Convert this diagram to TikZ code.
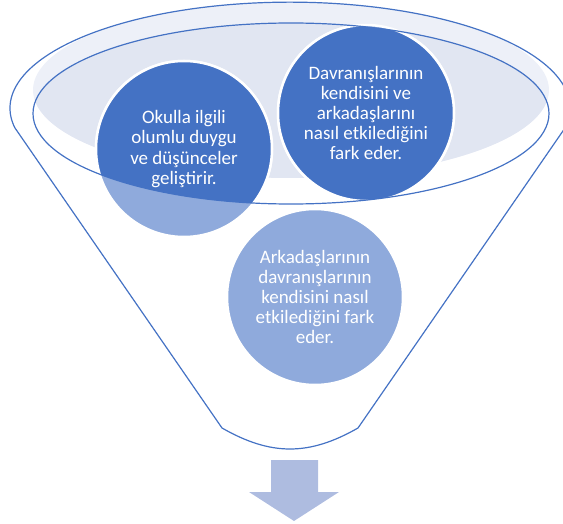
\documentclass[tikz,border=0pt]{standalone}
\usepackage{fontspec}
\setmainfont{Carlito}
\definecolor{accent}{HTML}{4472C4}
\definecolor{accentlight}{HTML}{8FAADC}
\definecolor{rimlight}{HTML}{EDF0F8}
\definecolor{rimshade}{HTML}{E1E6F2}
\definecolor{arrowfill}{HTML}{AEBCE0}
\begin{document}
\begin{tikzpicture}[x=1pt,y=-1pt,
  funnelline/.style={draw=accent, line width=1.2pt},
  bubble/.style={circle, minimum size=176pt, inner sep=0pt, draw=white, line width=2.5pt},
  bubbletext/.style={text=white, align=center, font=\fontsize{19}{20.2}\selectfont}]
\useasboundingbox (0,0) rectangle (563,524);

% light rim of the funnel opening and its shaded inside
\fill[rimlight] (291,90) ellipse [x radius=258, y radius=88];
\begin{scope}
  \clip (291,113.5) ellipse [x radius=258, y radius=90.5];
  \fill[rimshade] (291,90) ellipse [x radius=258, y radius=88];
\end{scope}

% circles, pale where the funnel body covers them
\node[bubble, fill=accentlight] (c1) at (184,149) {};
\node[bubble, fill=accentlight] (c2) at (366,113) {};
\node[bubble, fill=accentlight] (c3) at (315,297) {};
\begin{scope}
  \clip (291,113.5) ellipse [x radius=258, y radius=90.5];
  \node[bubble, fill=accent] (c1in) at (c1) {};
  \node[bubble, fill=accent] (c2in) at (c2) {};
\end{scope}

% inner edge of the rim
\draw[funnelline] (291,113.5) ellipse [x radius=258, y radius=90.5];

% funnel body
\draw[funnelline] (15,128) -- (222,428) .. controls (271,456) and (309,456) .. (358,428)
  -- (565,128) arc[start angle=10.8, end angle=-190.8, x radius=280, y radius=106] -- cycle;

% texts
\node[bubbletext] (t1) at (c1) {Okulla ilgili\\olumlu duygu\\ve düşünceler\\geliştirir.};
\node[bubbletext] (t2) at (c2) {Davranışlarının\\kendisini ve\\arkadaşlarını\\nasıl etkilediğini\\fark eder.};
\node[bubbletext] (t3) at (c3) {Arkadaşlarının\\davranışlarının\\kendisini nasıl\\etkilediğini fark\\eder.};

% output arrow
\fill[arrowfill] (271,460) -- (318,460) -- (318,492) -- (339,492) -- (294,521)
  -- (249,492) -- (271,492) -- cycle;
\end{tikzpicture}
\end{document}
